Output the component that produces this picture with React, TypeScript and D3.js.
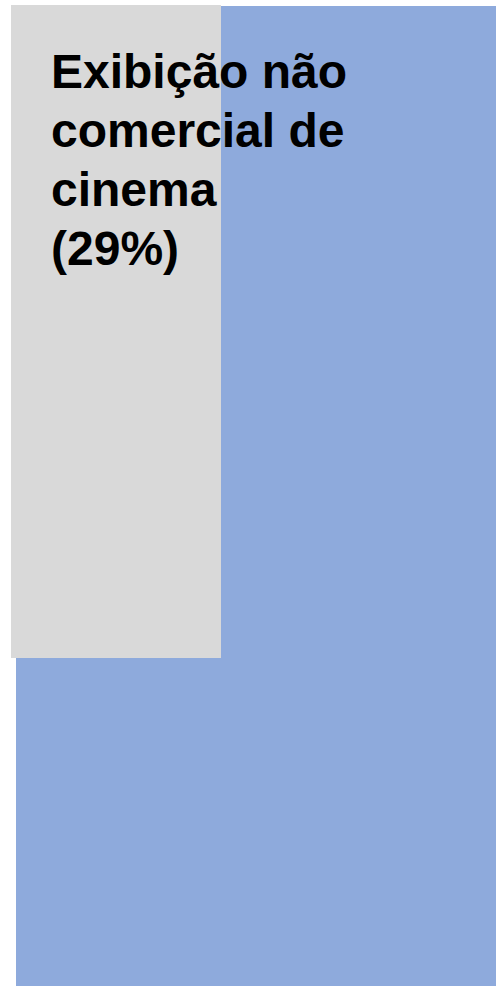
import React from "react";
import * as d3 from "d3";

const categories = ["Outros", "Exibição não comercial de cinema"];
const shares = [100, 29.15];
const labelLines = ["Exibição não", "comercial de", "cinema", "(29%)"];
const colors = ["#8eaadc", "#d9d9d9"];

const W = 496;
const H = 986;

export default function App() {
  const outer = { x0: 16, y0: 6, x1: 496, y1: 986 };
  const totalArea = (outer.x1 - outer.x0) * (outer.y1 - outer.y0);
  const cellH = 653;
  const area = d3.scaleLinear().domain([0, 100]).range([0, totalArea]);
  const cellW = area(shares[1]) / cellH;
  const x = d3.scaleLinear().domain([0, 1]).range([11, 11 + cellW]);
  const y = d3.scaleLinear().domain([0, 1]).range([5, 5 + cellH]);

  return (
    <svg
      width={W}
      height={H}
      style={{ position: "absolute", left: 0, top: 0 }}
    >
      <rect x={0} y={0} width={W} height={H} fill="#ffffff" />
      <rect
        x={outer.x0}
        y={outer.y0}
        width={outer.x1 - outer.x0}
        height={outer.y1 - outer.y0}
        fill={colors[0]}
      >
        <title>{categories[0]}</title>
      </rect>
      <rect
        x={x(0)}
        y={y(0)}
        width={x(1) - x(0)}
        height={y(1) - y(0)}
        fill={colors[1]}
      >
        <title>{categories[1]}</title>
      </rect>
      <text
        fontFamily="'Liberation Sans', Arial, sans-serif"
        fontWeight="bold"
        fontSize={48}
        fill="#000"
      >
        {labelLines.map((l, i) => (
          <tspan key={i} x={51} y={88 + i * 59}>
            {l}
          </tspan>
        ))}
      </text>
    </svg>
  );
}
